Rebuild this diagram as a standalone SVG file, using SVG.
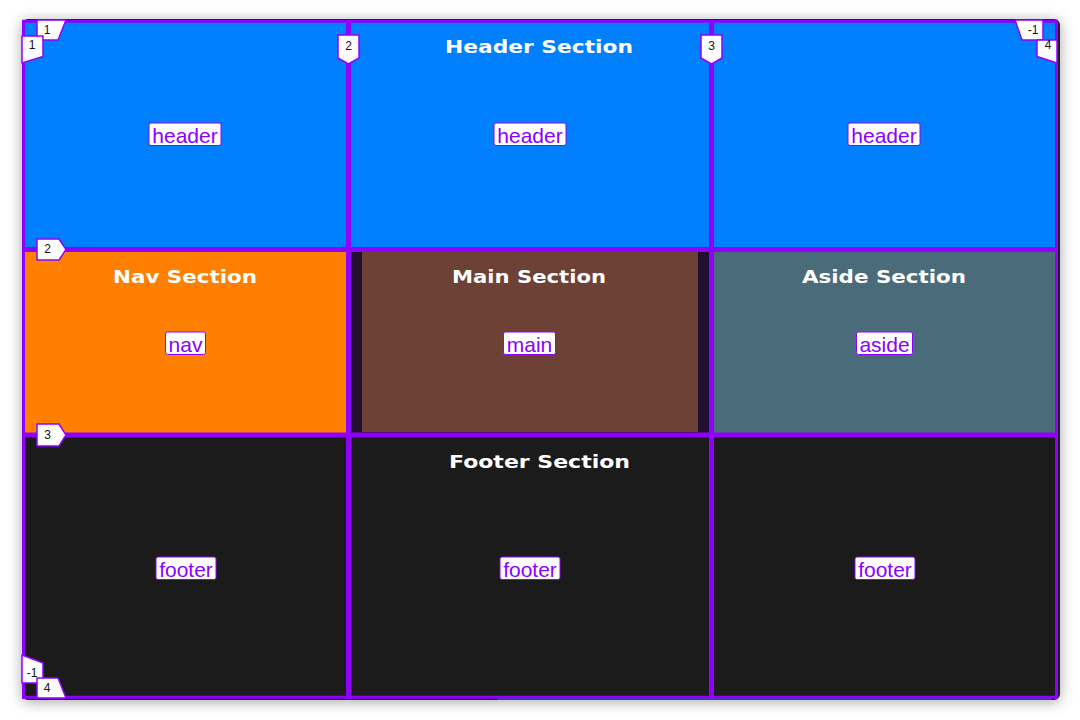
<svg xmlns="http://www.w3.org/2000/svg" width="1080" height="720" viewBox="0 0 1080 720">
<defs>
<filter id="shadow" x="-5%" y="-5%" width="110%" height="110%">
<feDropShadow dx="0" dy="2" stdDeviation="7" flood-color="#000" flood-opacity="0.35"/>
</filter>
<style>
.title{font-family:"DejaVu Sans","Liberation Sans",sans-serif;font-weight:bold;font-size:18px;fill:#fff;text-anchor:middle}
.lbox{fill:#fff;stroke:#9000ff;stroke-width:1}
.ltext{font-family:"Liberation Sans",Arial,sans-serif;font-size:21px;fill:#8a00ff;text-anchor:middle}
.gl{stroke:#8f00ff;fill:none}
.badge{fill:#fff;stroke:#9000ff;stroke-width:1.5;stroke-linejoin:round}
.btext{font-family:"Liberation Sans",Arial,sans-serif;font-size:12px;fill:#111;text-anchor:middle}
</style>
</defs>
<rect x="0" y="0" width="1080" height="720" fill="#fff"/>
<rect x="22" y="19" width="1038" height="681" rx="6" fill="#1b1b1b" filter="url(#shadow)"/>

<g id="header">
<rect x="23" y="21" width="1034" height="228" fill="#0080ff"/>
<text class="title" x="539" y="53" textLength="188" lengthAdjust="spacingAndGlyphs">Header Section</text>
<rect class="lbox" x="149" y="123" width="72" height="22.5" rx="2"/><text class="ltext" x="185" y="142.5">header</text>
<rect class="lbox" x="494" y="123" width="72" height="22.5" rx="2"/><text class="ltext" x="530" y="142.5">header</text>
<rect class="lbox" x="848" y="123" width="72" height="22.5" rx="2"/><text class="ltext" x="884" y="142.5">header</text>
</g>

<g id="nav">
<rect x="23" y="250" width="325" height="185" fill="#ff8000"/>
<text class="title" x="185" y="283" textLength="144" lengthAdjust="spacingAndGlyphs">Nav Section</text>
<rect class="lbox" x="165.5" y="332" width="40" height="22.5" rx="2"/><text class="ltext" x="185.5" y="351.5">nav</text>
</g>

<g id="main">
<rect x="349" y="250" width="362" height="185" fill="#22102f"/>
<rect x="362" y="252" width="336" height="180" fill="#6d4136"/>
<text class="title" x="529" y="283" textLength="154" lengthAdjust="spacingAndGlyphs">Main Section</text>
<rect class="lbox" x="503.5" y="332" width="52" height="22.5" rx="2"/><text class="ltext" x="529.5" y="351.5">main</text>
</g>

<g id="aside">
<rect x="712" y="250" width="345" height="185" fill="#4a6c7a"/>
<text class="title" x="884" y="283" textLength="164" lengthAdjust="spacingAndGlyphs">Aside Section</text>
<rect class="lbox" x="856.5" y="332" width="56" height="22.5" rx="2"/><text class="ltext" x="884.5" y="351.5">aside</text>
</g>

<g id="footer">
<rect x="23" y="436" width="1034" height="261" fill="#1b1b1b"/>
<text class="title" x="539.5" y="468" textLength="181" lengthAdjust="spacingAndGlyphs">Footer Section</text>
<rect class="lbox" x="156" y="557" width="60" height="22.5" rx="2"/><text class="ltext" x="186" y="576.5">footer</text>
<rect class="lbox" x="500" y="557" width="60" height="22.5" rx="2"/><text class="ltext" x="530" y="576.5">footer</text>
<rect class="lbox" x="855" y="557" width="60" height="22.5" rx="2"/><text class="ltext" x="885" y="576.5">footer</text>
</g>

<g id="grid-lines">
<line class="gl" x1="23.5" y1="20" x2="23.5" y2="699" stroke-width="3"/>
<line class="gl" x1="1056.5" y1="20" x2="1056.5" y2="699" stroke-width="3"/>
<line class="gl" x1="348.5" y1="20" x2="348.5" y2="699" stroke-width="5"/>
<line class="gl" x1="711.5" y1="20" x2="711.5" y2="699" stroke-width="5"/>
<line class="gl" x1="22" y1="21.2" x2="1058" y2="21.2" stroke-width="3"/>
<line class="gl" x1="22" y1="249.6" x2="1058" y2="249.6" stroke-width="5"/>
<line class="gl" x1="22" y1="435" x2="1058" y2="435" stroke-width="5"/>
<line class="gl" x1="22" y1="697.3" x2="1058" y2="697.3" stroke-width="3"/>
<rect x="497" y="698.6" width="555" height="1.2" fill="#1f5fb0"/>
</g>

<g id="line-badges">
<polygon class="badge" points="37,20 66,20 58,40 37,40"/><text class="btext" x="47" y="34">1</text>
<polygon class="badge" points="22,36 43,36 43,56.5 22,63"/><text class="btext" x="32" y="49">1</text>
<polygon class="badge" points="338,35 359,35 359,58 348.5,64 338,58"/><text class="btext" x="348.5" y="49.5">2</text>
<polygon class="badge" points="701,35 722,35 722,58 711.5,64 701,58"/><text class="btext" x="711.5" y="49.5">3</text>
<polygon class="badge" points="1015,20 1043,20 1043,40 1022,40"/><text class="btext" x="1033" y="34">-1</text>
<polygon class="badge" points="1037,40 1057,40 1057,63 1037,56.5"/><text class="btext" x="1048" y="49">4</text>
<polygon class="badge" points="37,239 59,239 66,249.5 59,260 37,260"/><text class="btext" x="47.5" y="253">2</text>
<polygon class="badge" points="37,424 59,424 66,435 59,446 37,446"/><text class="btext" x="47.5" y="439">3</text>
<polygon class="badge" points="22,655 43,663 43,683 22,683"/><text class="btext" x="32" y="677">-1</text>
<polygon class="badge" points="37,678 58,678 66,698 37,698"/><text class="btext" x="47" y="692">4</text>
</g>
</svg>
